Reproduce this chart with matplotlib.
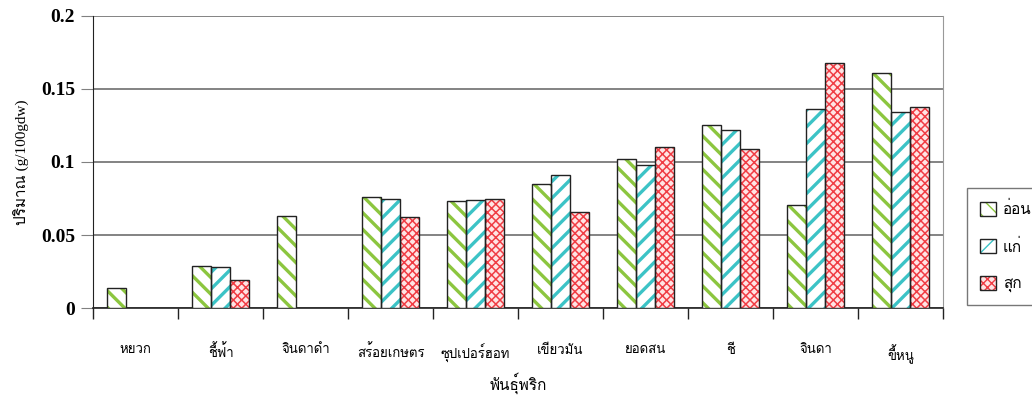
import matplotlib
matplotlib.use("Agg")
import matplotlib.pyplot as plt
from matplotlib import font_manager
from matplotlib.ft2font import FT2Font
from matplotlib.patches import Patch
from matplotlib.legend_handler import HandlerTuple
import numpy as np

# ข้อมูลปริมาณ (g/100gdw) ของพริกแต่ละพันธุ์ ตามระยะการสุก
varieties = ["หยวก", "ชี้ฟ้า", "จินดาดำ", "สร้อยเกษตร", "ซุปเปอร์ฮอท",
             "เขียวมัน", "ยอดสน", "ชี", "จินดา", "ขี้หนู"]
stages = ["อ่อน", "แก่", "สุก"]
young = [0.014, 0.029, 0.063, 0.076, 0.073, 0.085, 0.102, 0.125, 0.0705, 0.161]
mature = [np.nan, 0.028, np.nan, 0.075, 0.074, 0.091, 0.098, 0.122, 0.136, 0.134]
ripe = [np.nan, 0.019, np.nan, 0.062, 0.075, 0.066, 0.110, 0.109, 0.168, 0.138]
yticks = [0, 0.05, 0.1, 0.15, 0.2]
ytick_labels = ["0", "0.05", "0.1", "0.15", "0.2"]


def find_thai_font():
    """Return the first installed family that has Thai glyphs."""
    for f in font_manager.fontManager.ttflist:
        try:
            cmap = FT2Font(f.fname).get_charmap()
        except Exception:
            continue
        if 0x0E01 in cmap and 0x0E34 in cmap:
            return f.name
    return "DejaVu Sans"


thai = find_thai_font()

series = [young, mature, ripe]
colors = ["#8cc63f", "#3cc3c6", "#f03c44"]
faces = ["white", "white", "#ffe4e4"]
hatches = ["\\\\", "//", "xxxx"]
hatch_lw = [2.4, 2.4, 1.1]

fig = plt.figure(figsize=(10.32, 3.99), dpi=100)
ax = fig.add_axes([0.0901, 0.228, 0.8237, 0.732])

x = np.arange(len(varieties))
w = 0.224
handles = []
for i, (vals, col, face, hat, hlw) in enumerate(zip(series, colors, faces, hatches, hatch_lw)):
    pos = x + (i - 1) * w
    with plt.rc_context({"hatch.linewidth": hlw}):
        ax.bar(pos, vals, w, color=face, edgecolor=col, hatch=hat, linewidth=0, zorder=3)
        fill = Patch(facecolor=face, edgecolor=col, hatch=hat, linewidth=0)
    ax.bar(pos, vals, w, fill=False, edgecolor="#222222", linewidth=1.0, zorder=4)
    outline = Patch(fill=False, edgecolor="#222222", linewidth=1.0)
    handles.append((fill, outline))

ax.set_xlim(-0.5, len(varieties) - 0.5)
ax.set_ylim(0, 0.2)
ax.set_yticks(yticks)
ax.set_yticklabels(ytick_labels, fontfamily="Liberation Serif", fontweight="bold", fontsize=14)
ax.tick_params(axis="y", length=9, color="#808080", pad=4)
ax.yaxis.grid(True, color="#6e6e6e", linewidth=1.2, zorder=0)

# ชื่อพันธุ์อยู่กลางกลุ่ม ขีดแบ่งอยู่ที่รอยต่อ
ax.set_xticks(x)
ax.set_xticklabels(varieties, fontfamily=thai, fontsize=9.5)
ax.tick_params(axis="x", which="major", length=0, pad=26)
ax.set_xticks(np.arange(-0.5, len(varieties), 1.0), minor=True)
ax.tick_params(axis="x", which="minor", length=8, color="#222222", width=1)

ax.spines["top"].set_visible(False)
ax.spines["right"].set_color("#999999")
ax.spines["left"].set_color("#222222")
ax.spines["bottom"].set_color("#222222")
ax.spines["bottom"].set_linewidth(1.2)
ax.set_axisbelow(True)

ax.set_ylabel("ปริมาณ (g/100gdw)", fontfamily=["Liberation Serif", thai], fontsize=11, labelpad=8)
ax.set_xlabel("พันธุ์พริก", fontfamily=thai, fontsize=11, labelpad=6)

leg = fig.legend(handles, stages, loc="upper left", bbox_to_anchor=(0.937, 0.529),
                 borderaxespad=0, handler_map={tuple: HandlerTuple(ndivide=1, pad=0)},
                 prop={"family": thai, "size": 11}, frameon=True, fancybox=False,
                 edgecolor="#555555", handlelength=1.05, handleheight=1.05,
                 labelspacing=1.4, borderpad=0.85, handletextpad=0.45)
leg.get_frame().set_linewidth(1.0)

fig.savefig("out.png", dpi=100)
